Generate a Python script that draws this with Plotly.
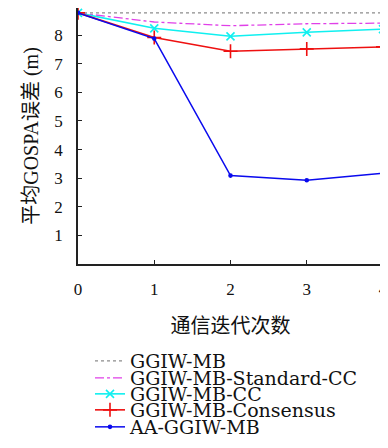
import plotly.graph_objects as go

iterations = [0, 1, 2, 3, 4]
ggiw_mb = [8.78, 8.78, 8.78, 8.78, 8.78]
ggiw_mb_standard_cc = [8.78, 8.46, 8.33, 8.40, 8.42]
ggiw_mb_cc = [8.78, 8.24, 7.96, 8.10, 8.21]
ggiw_mb_consensus = [8.78, 7.92, 7.44, 7.52, 7.59]
aa_ggiw_mb = [8.78, 7.88, 3.09, 2.93, 3.17]

names = ["GGIW-MB", "GGIW-MB-Standard-CC", "GGIW-MB-CC", "GGIW-MB-Consensus", "AA-GGIW-MB"]
x_title = "通信迭代次数"
y_title = "平均GOSPA误差 (m)"
x_ticks = [0, 1, 2, 3, 4]
y_ticks = [1, 2, 3, 4, 5, 6, 7, 8]

SERIF = "Liberation Serif, Noto Sans CJK SC, serif"
LEGSERIF = "DejaVu Serif, Liberation Serif, serif"

series = [
    (ggiw_mb, "#8c8c8c", "dot", "circle", 0, 1.2),
    (ggiw_mb_standard_cc, "#e040e8", "dashdot", "circle", 0, 1.3),
    (ggiw_mb_cc, "#10f0f0", "solid", "x-thin", 8, 1.6),
    (ggiw_mb_consensus, "#ee1010", "solid", "cross-thin", 10, 1.6),
    (aa_ggiw_mb, "#0a0aee", "solid", "circle", 3, 1.5),
]

fig = go.Figure()
legend_ids = ["legend", "legend2", "legend3", "legend4", "legend5"]
for i, (vals, col, dash, sym, msize, lw) in enumerate(series):
    mode = "lines+markers" if msize > 0 else "lines"
    fig.add_trace(go.Scatter(
        x=iterations, y=vals, name=names[i], mode=mode,
        line=dict(color=col, dash=dash, width=lw),
        marker=dict(symbol=sym, size=msize, color=col,
                    line=dict(color=col, width=1.6)),
        legend=legend_ids[i],
    ))

# figure is offset 8px by the page body margin; work in figure coords
W, H = 380, 432
L, R, T, B = 70, 5, 0, 176
plot_bot = H - B
plot_h = H - B - T
plot_w = W - L - R
centers = [353, 370, 386, 402, 419]
leg_cfg = {}
for i, lid in enumerate(legend_ids):
    leg_cfg[lid] = dict(
        x=(82 - L) / plot_w, xanchor="left",
        y=(plot_bot - centers[i]) / plot_h, yanchor="middle",
        bgcolor="rgba(0,0,0,0)", borderwidth=0,
        font=dict(family=LEGSERIF, size=19, color="#111"),
        itemwidth=30,
    )

fig.update_layout(
    width=W, height=H,
    margin=dict(l=L, r=R, t=T, b=B, autoexpand=False),
    plot_bgcolor="white", paper_bgcolor="white",
    font=dict(family=SERIF, size=16, color="#111"),
    showlegend=True,
    **leg_cfg,
)
fig.update_xaxes(
    range=[0, 4], tickvals=x_ticks, ticktext=[str(t) for t in x_ticks],
    showgrid=False, zeroline=False, automargin=False,
    showline=True, linecolor="#222", linewidth=1.5, mirror=True,
    ticks="inside", ticklen=4, tickcolor="#222", tickwidth=1.2,
    ticklabelstandoff=9,
    tickfont=dict(family=SERIF, size=17),
    title=dict(text=x_title, font=dict(family=SERIF, size=20), standoff=21),
)
fig.update_yaxes(
    range=[0, 8.95], tickvals=y_ticks, ticktext=[str(t) for t in y_ticks],
    showgrid=False, zeroline=False, automargin=False,
    showline=True, linecolor="#222", linewidth=1.5, mirror=True,
    ticks="inside", ticklen=4, tickcolor="#222", tickwidth=1.2,
    ticklabelstandoff=10,
    tickfont=dict(family=SERIF, size=17),
    title=dict(text=y_title, font=dict(family=SERIF, size=20), standoff=10),
)

fig.write_html("out.html")
